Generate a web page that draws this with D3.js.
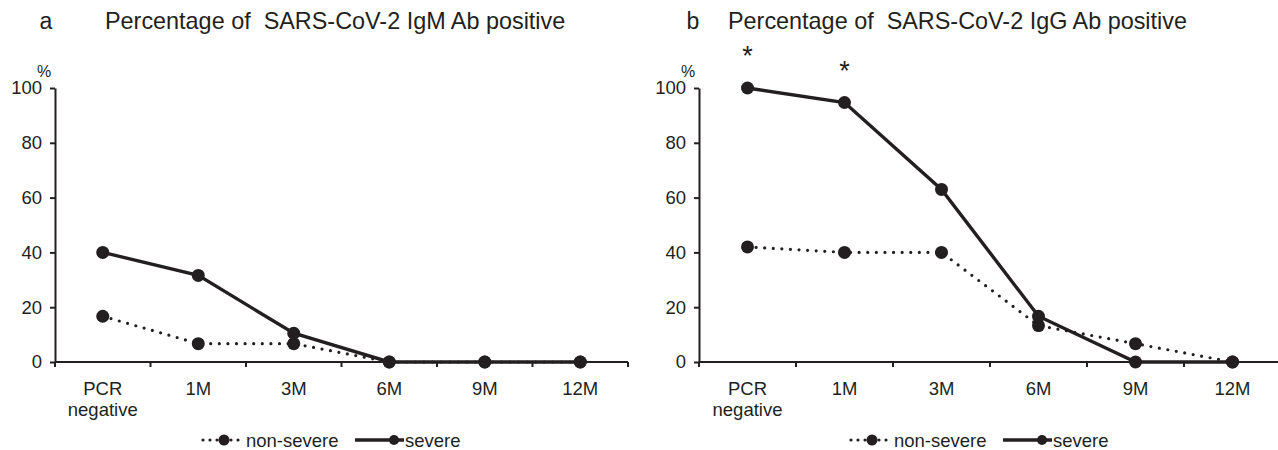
<!DOCTYPE html>
<html>
<head>
<meta charset="utf-8">
<script src="https://cdn.jsdelivr.net/npm/d3@7"></script>
<style>
  body { margin: 0; background: #fff; }
  text { font-family: "Liberation Sans", Arial, sans-serif; fill: #231f20; }
</style>
</head>
<body>
<script>
const categories = ["PCR negative", "1M", "3M", "6M", "9M", "12M"];
const yTicks = [0, 20, 40, 60, 80, 100];
const seriesNames = ["non-severe", "severe"];

// IgM (panel a)
const igmNonSevere = [16.7, 6.7, 6.7, 0, 0, 0];
const igmSevere = [40, 31.6, 10.5, 0, 0, 0];
// IgG (panel b)
const iggNonSevere = [42, 40, 40, 13.3, 6.7, 0];
const iggSevere = [100, 94.7, 63, 16.7, 0, 0];
const iggStars = ["PCR negative", "1M"];

const width = 1278;
const height = 450;
const ink = "#231f20";
const labelSize = "18.5px";

const svg = d3.select("body")
  .append("svg")
  .attr("width", width)
  .attr("height", height);

function drawPanel(opts) {
  const x = d3.scaleBand().domain(categories).range([opts.left, opts.right]);
  const y = d3.scaleLinear().domain([0, 100]).range([362, 88]);
  const g = svg.append("g");

  // title
  g.append("text")
    .attr("x", opts.letterX)
    .attr("y", 29)
    .attr("text-anchor", "middle")
    .style("font-size", "23px")
    .text(opts.letter);
  g.append("text")
    .attr("x", opts.titleX)
    .attr("y", 29)
    .style("font-size", "23.4px")
    .style("white-space", "pre")
    .text(opts.title);

  // y axis
  const yAxis = d3.axisLeft(y)
    .tickValues(yTicks)
    .tickSize(5)
    .tickSizeOuter(0)
    .tickPadding(8);
  const ya = g.append("g")
    .attr("transform", `translate(${opts.left},0)`)
    .call(yAxis);
  ya.select(".domain").attr("stroke", ink).attr("stroke-width", 2);
  ya.selectAll(".tick line").attr("stroke", ink).attr("stroke-width", 2);
  ya.selectAll(".tick text")
    .style("font-size", labelSize)
    .attr("fill", ink)
    .style("font-family", "Liberation Sans, Arial, sans-serif");

  g.append("text")
    .attr("x", opts.left - 11)
    .attr("y", 77)
    .attr("text-anchor", "middle")
    .style("font-size", "16px")
    .text("%");

  // x axis with ticks at band edges
  const [r0, r1] = x.range();
  g.append("line")
    .attr("x1", r0).attr("x2", r1)
    .attr("y1", y(0)).attr("y2", y(0))
    .attr("stroke", ink).attr("stroke-width", 2);
  const edges = categories.map((c) => x(c)).concat([r1]);
  g.selectAll(".xtick")
    .data(edges)
    .enter()
    .append("line")
    .attr("x1", (d) => d).attr("x2", (d) => d)
    .attr("y1", y(0)).attr("y2", y(0) + 5)
    .attr("stroke", ink).attr("stroke-width", 2);

  const labels = g.selectAll(".xlabel")
    .data(categories)
    .enter()
    .append("text")
    .attr("text-anchor", "middle")
    .attr("x", (d) => x(d) + x.bandwidth() / 2)
    .attr("y", 395)
    .style("font-size", labelSize);
  labels.each(function (d) {
    const parts = d.split(" ");
    const t = d3.select(this);
    parts.forEach((p, i) => {
      t.append("tspan")
        .attr("x", x(d) + x.bandwidth() / 2)
        .attr("dy", i === 0 ? 0 : 21)
        .text(p);
    });
  });

  const cx = (i) => x(categories[i]) + x.bandwidth() / 2;
  const line = d3.line().x((d, i) => cx(i)).y((d) => y(d));

  // non-severe (dotted)
  g.append("path")
    .datum(opts.nonSevere)
    .attr("d", line)
    .attr("fill", "none")
    .attr("stroke", ink)
    .attr("stroke-width", 3.2)
    .attr("stroke-linecap", "round")
    .attr("stroke-dasharray", "0 8.6");
  // severe (solid)
  g.append("path")
    .datum(opts.severe)
    .attr("d", line)
    .attr("fill", "none")
    .attr("stroke", ink)
    .attr("stroke-width", 3.4);

  [opts.nonSevere, opts.severe].forEach((s) => {
    g.append("g")
      .selectAll("circle")
      .data(s)
      .enter()
      .append("circle")
      .attr("cx", (d, i) => cx(i))
      .attr("cy", (d) => y(d))
      .attr("r", 6.5)
      .attr("fill", ink);
  });

  // significance stars
  (opts.stars || []).forEach((c) => {
    const i = categories.indexOf(c);
    g.append("text")
      .attr("x", cx(i))
      .attr("y", y(opts.severe[i]) - 23)
      .attr("text-anchor", "middle")
      .style("font-size", "27px")
      .text("*");
  });

  // legend
  const lg = g.append("g").attr("transform", `translate(${opts.legendX},440)`);
  lg.append("line")
    .attr("x1", 0).attr("x2", 38).attr("y1", 0).attr("y2", 0)
    .attr("stroke", ink).attr("stroke-width", 3.2)
    .attr("stroke-linecap", "round")
    .attr("stroke-dasharray", "0 7");
  lg.append("circle").attr("cx", 21).attr("cy", 0).attr("r", 5.5).attr("fill", ink);
  lg.append("text").attr("x", 43).attr("y", 6.5).style("font-size", labelSize).text(seriesNames[0]);
  lg.append("line")
    .attr("x1", 152).attr("x2", 201).attr("y1", 0).attr("y2", 0)
    .attr("stroke", ink).attr("stroke-width", 3.4);
  lg.append("circle").attr("cx", 191).attr("cy", 0).attr("r", 5).attr("fill", ink);
  lg.append("text").attr("x", 202).attr("y", 6.5).style("font-size", labelSize).text(seriesNames[1]);
}

drawPanel({
  left: 55, right: 628,
  letter: "a", letterX: 46, titleX: 105,
  title: "Percentage of  SARS-CoV-2 IgM Ab positive",
  nonSevere: igmNonSevere, severe: igmSevere,
  legendX: 203
});

drawPanel({
  left: 699, right: 1281,
  letter: "b", letterX: 693, titleX: 728,
  title: "Percentage of  SARS-CoV-2 IgG Ab positive",
  nonSevere: iggNonSevere, severe: iggSevere,
  stars: iggStars,
  legendX: 851
});
</script>
</body>
</html>
